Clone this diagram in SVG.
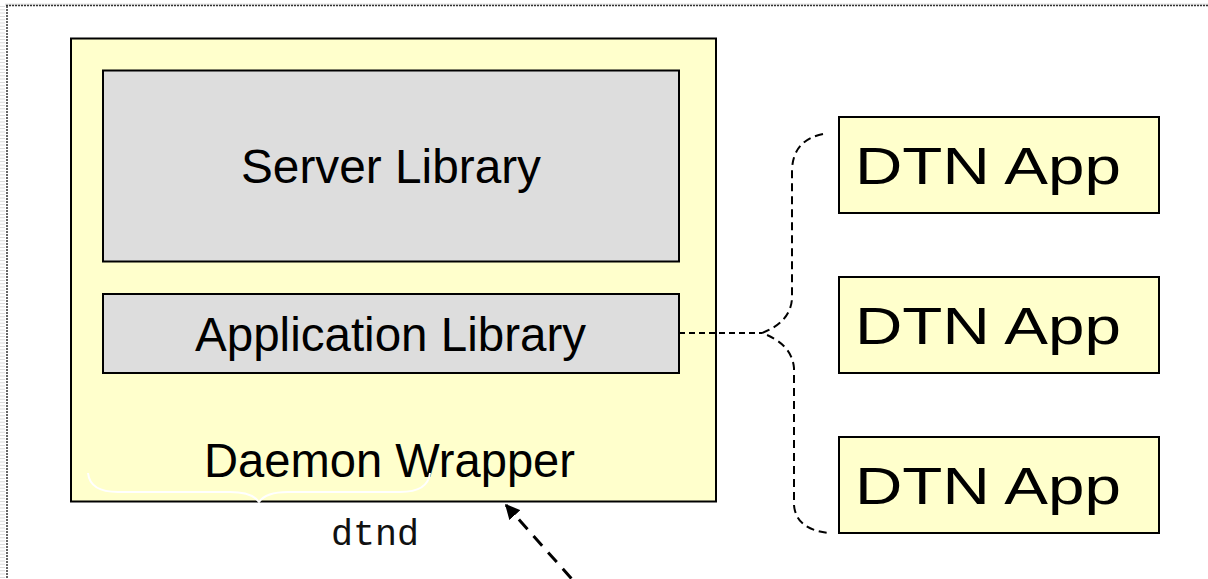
<svg xmlns="http://www.w3.org/2000/svg" width="1208" height="579" viewBox="0 0 1208 579">
  <style>
    .box { stroke: #000; stroke-width: 2; }
    .yellow { fill: #FFFFCC; }
    .gray { fill: #DDDDDD; }
    .label { font-family: "Liberation Sans", Arial, sans-serif; font-size: 48px; fill: #000; }
    .app { font-family: "Liberation Sans", Arial, sans-serif; font-size: 52px; fill: #000; }
    .mono { font-family: "Liberation Mono", "Courier New", monospace; font-size: 36px; fill: #111; }
    .dash { fill: none; stroke: #000; stroke-width: 2; }
  </style>
  <defs>
    <marker id="arrowhead" viewBox="0 0 10 10" refX="9" refY="5" markerWidth="5" markerHeight="5" orient="auto-start-reverse" markerUnits="strokeWidth">
      <path d="M0,0 L10,5 L0,10 z" fill="#000"/>
    </marker>
  </defs>

  <rect width="1208" height="579" fill="#fff"/>

  <!-- page frame: dotted top and left edges -->
  <g id="frame">
    <line x1="5" y1="4.5" x2="1208" y2="4.5" stroke="#e4e4e4" stroke-width="2"/>
    <line x1="6" y1="5.5" x2="1208" y2="5.5" stroke="#333" stroke-width="1.5" stroke-dasharray="2 1"/>
    <line x1="2.5" y1="6" x2="2.5" y2="579" stroke="#dcdcdc" stroke-width="5" stroke-dasharray="1 2.3"/>
    <line x1="7" y1="6" x2="7" y2="579" stroke="#333" stroke-width="1.5" stroke-dasharray="2 1"/>
  </g>

  <g id="daemon-wrapper">
    <rect class="box yellow" x="71" y="38.5" width="645" height="463"/>
    <text class="label" x="204" y="477" textLength="371" lengthAdjust="spacingAndGlyphs">Daemon Wrapper</text>
    <!-- white brace under the wrapper label -->
    <path d="M88,473 Q90,492 118,492 L230,492 Q252,492 259,502 Q266,492 288,492 L400,492 Q428,492 430,473" fill="none" stroke="#fff" stroke-width="2"/>
  </g>

  <g id="server-library">
    <rect class="box gray" x="103" y="70.5" width="576" height="191"/>
    <text class="label" x="241" y="183" textLength="300" lengthAdjust="spacingAndGlyphs">Server Library</text>
  </g>

  <g id="application-library">
    <rect class="box gray" x="103" y="294" width="576" height="79"/>
    <text class="label" x="195" y="351" textLength="391" lengthAdjust="spacingAndGlyphs">Application Library</text>
  </g>

  <g id="dtn-app-1">
    <rect class="box yellow" x="839" y="117" width="320" height="96"/>
    <text class="app" x="855" y="184" textLength="266" lengthAdjust="spacingAndGlyphs">DTN App</text>
  </g>
  <g id="dtn-app-2">
    <rect class="box yellow" x="839" y="277" width="320" height="96"/>
    <text class="app" x="855" y="344" textLength="266" lengthAdjust="spacingAndGlyphs">DTN App</text>
  </g>
  <g id="dtn-app-3">
    <rect class="box yellow" x="839" y="437" width="320" height="96"/>
    <text class="app" x="855" y="504" textLength="266" lengthAdjust="spacingAndGlyphs">DTN App</text>
  </g>

  <g id="dtnd-label">
    <text class="mono" x="331" y="545" textLength="88" lengthAdjust="spacingAndGlyphs">dtnd</text>
  </g>

  <g id="connectors">
    <!-- application library to the apps -->
    <line class="dash" x1="679" y1="333" x2="762" y2="333" stroke-dasharray="6 4"/>
    <path class="dash" stroke-dasharray="8 5" d="M823,134 Q793,140 792,170 L792,298 Q791,322 762,333 Q792,344 794,368 L794,505 Q796,530 830,533"/>
    <!-- external link into the wrapper -->
    <line x1="586" y1="595" x2="506" y2="505" stroke="#000" stroke-width="3" stroke-dasharray="13 9" marker-end="url(#arrowhead)"/>
  </g>
</svg>
